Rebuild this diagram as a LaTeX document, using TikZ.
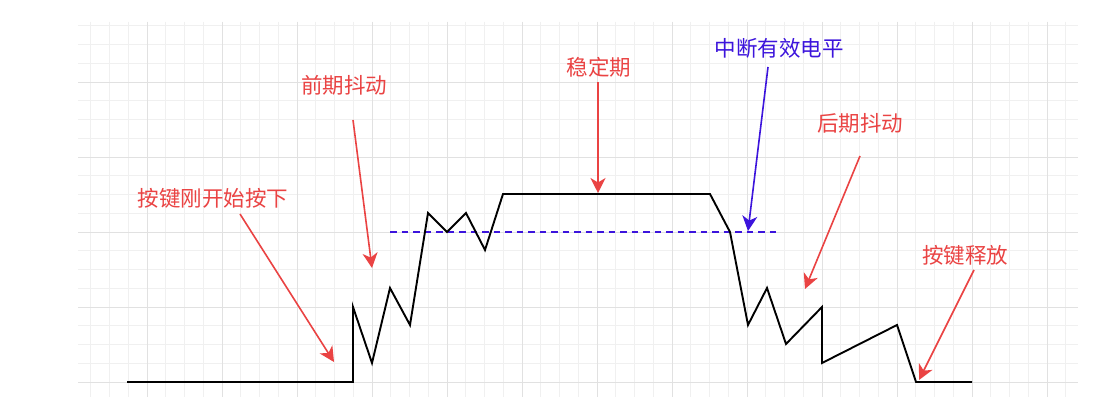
\documentclass[tikz,border=0pt]{standalone}
\usepackage{fontspec}
\setmainfont{Noto Sans CJK SC}
\usetikzlibrary{arrows.meta}
\definecolor{redc}{RGB}{234,67,67}
\definecolor{bluec}{RGB}{60,20,220}
\definecolor{gridmaj}{RGB}{225,225,225}
\definecolor{gridmin}{RGB}{240,240,240}
\begin{document}
\begin{tikzpicture}[x=1pt,y=-1pt,
  lbl/.style={font=\fontsize{21.5}{24}\selectfont, inner sep=0pt},
  redlbl/.style={lbl, text=redc},
  bluelbl/.style={lbl, text=bluec},
  redarrow/.style={draw=redc, line width=1.6pt, -{Stealth[length=15pt,width=15pt,inset=4.5pt]}},
  bluearrow/.style={draw=bluec, line width=1.6pt, -{Stealth[length=15pt,width=15pt,inset=4.5pt]}},
  signal/.style={draw=black, line width=1.9pt, line join=miter},
  level/.style={draw=bluec, line width=1.7pt, dash pattern=on 6.5pt off 5pt}]
\useasboundingbox (0,0) rectangle (1110,414);
\fill[white] (0,0) rectangle (1110,414);
% grid
\foreach \k in {-3,...,49} {
  \pgfmathsetmacro{\xx}{147+18.75*\k}
  \draw[gridmin, line width=0.8pt] (\xx,22) -- (\xx,397);
}
\foreach \k in {0,...,19} {
  \pgfmathsetmacro{\yy}{382-18.75*\k}
  \draw[gridmin, line width=0.8pt] (78,\yy) -- (1078,\yy);
}
\foreach \k in {0,...,12} {
  \pgfmathsetmacro{\xx}{147+75*\k}
  \draw[gridmaj, line width=0.9pt] (\xx,22) -- (\xx,397);
}
\foreach \k in {0,...,4} {
  \pgfmathsetmacro{\yy}{382-75*\k}
  \draw[gridmaj, line width=0.9pt] (78,\yy) -- (1078,\yy);
}
% threshold level
\coordinate (lvlA) at (390,232);
\coordinate (lvlB) at (780,232);
\draw[level] (lvlA) -- (lvlB);
% signal
\draw[signal] (127,382) -- (353,382) -- (353,307) -- (372,363) -- (390,288) -- (410,325)
  -- (428,213) -- (447,232) -- (466,213) -- (485,250) -- (503,194) -- (710,194)
  -- (730,232) -- (748,325) -- (767,288) -- (786,344) -- (822,307) -- (822,363)
  -- (897,325) -- (916,382) -- (972,382);
% labels
\node[redlbl] (t1) at (213,198) {按键刚开始按下};
\node[redlbl] (t2) at (344,85) {前期抖动};
\node[redlbl] (t3) at (599,67) {稳定期};
\node[bluelbl] (t4) at (779,48) {中断有效电平};
\node[redlbl] (t5) at (860,123) {后期抖动};
\node[redlbl] (t6) at (965,255) {按键释放};
% arrow endpoints
\coordinate (s1) at (240,214); \coordinate (e1) at (334,362);
\coordinate (s2) at (353,120); \coordinate (e2) at (372,268);
\coordinate (s3) at (598,82);  \coordinate (e3) at (598,193);
\coordinate (s4) at (768,67);  \coordinate (e4) at (748,231);
\coordinate (s5) at (860,156); \coordinate (e5) at (805,289);
\coordinate (s6) at (974,270); \coordinate (e6) at (919,380);
\draw[redarrow] (s1) -- (e1);
\draw[redarrow] (s2) -- (e2);
\draw[redarrow] (s3) -- (e3);
\draw[bluearrow] (s4) -- (e4);
\draw[redarrow] (s5) -- (e5);
\draw[redarrow] (s6) -- (e6);
\end{tikzpicture}
\end{document}
